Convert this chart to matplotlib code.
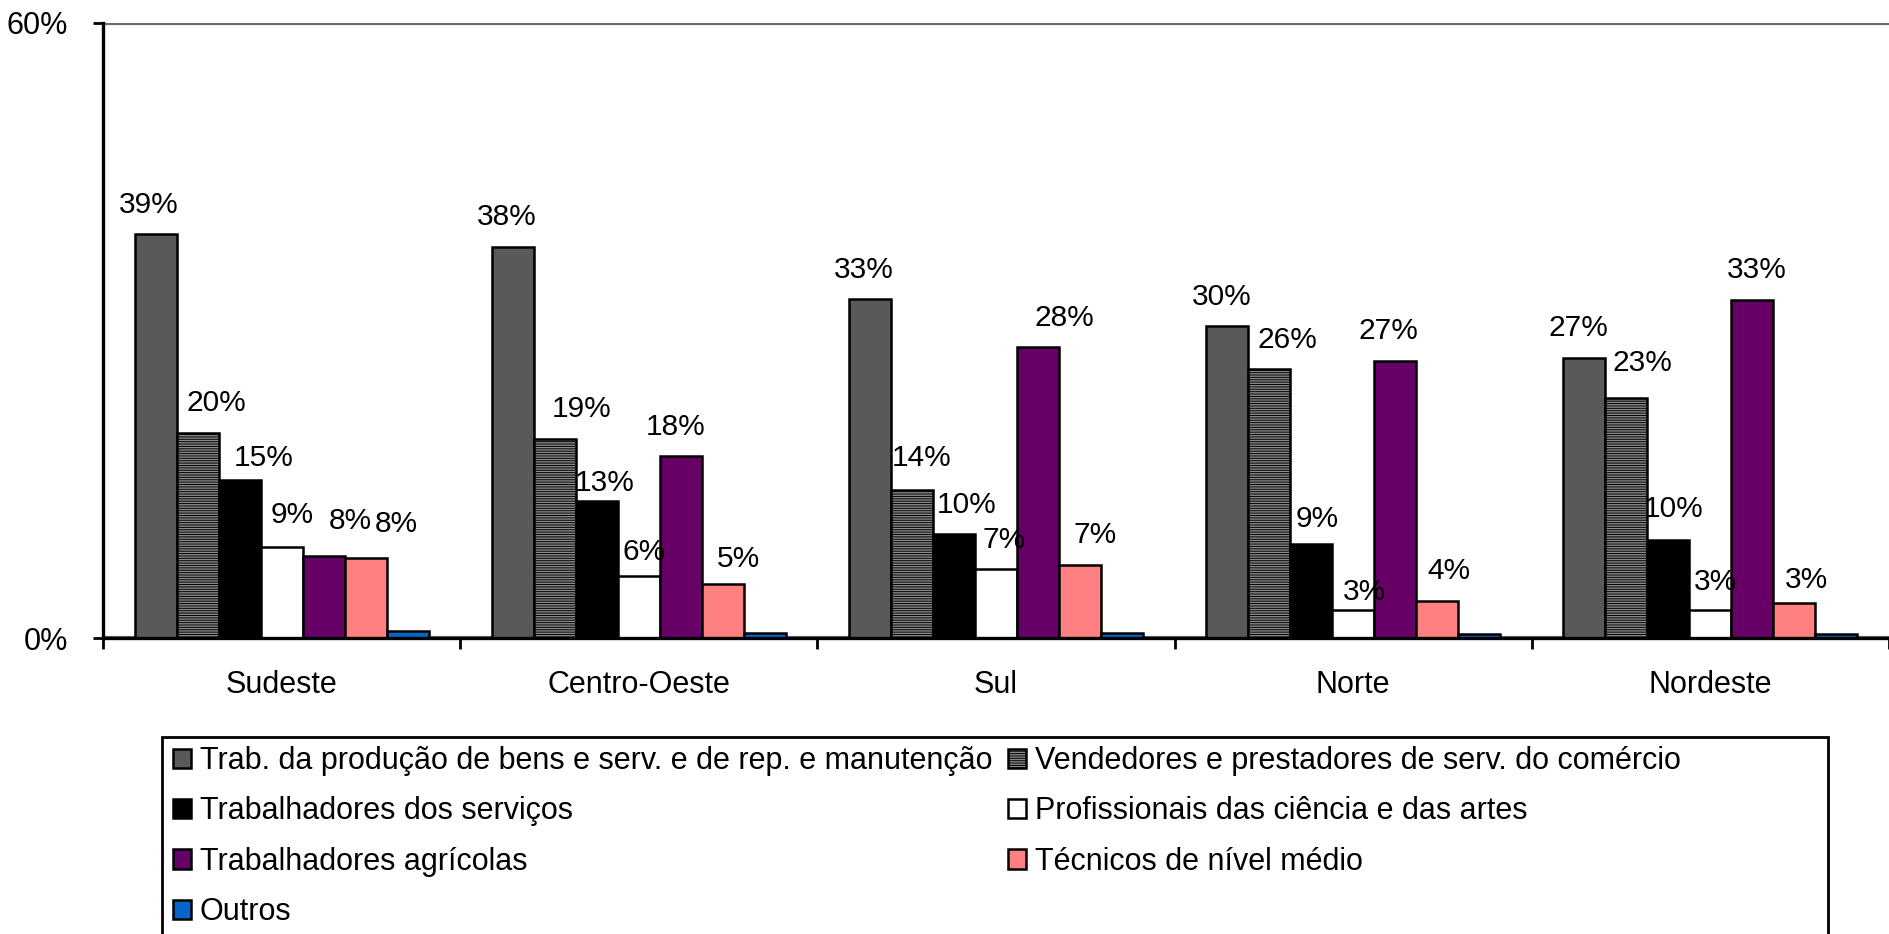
import numpy as np
import matplotlib.pyplot as plt
from matplotlib.patches import Rectangle

plt.rcParams['font.family'] = ['Liberation Sans', 'DejaVu Sans']
plt.rcParams['hatch.linewidth'] = 0.7

regions = ["Sudeste", "Centro-Oeste", "Sul", "Norte", "Nordeste"]

series_names = [
    "Trab. da produção de bens e serv. e de rep. e manutenção",
    "Vendedores e prestadores de serv. do comércio",
    "Trabalhadores dos serviços",
    "Profissionais das ciência e das artes",
    "Trabalhadores agrícolas",
    "Técnicos de nível médio",
    "Outros",
]

# values in % per region
producao      = [39.4, 38.1, 33.1, 30.4, 27.3]
vendedores    = [20.0, 19.4, 14.4, 26.2, 23.4]
servicos      = [15.4, 13.4, 10.1, 9.2, 9.6]
profissionais = [8.9, 6.0, 6.7, 2.7, 2.7]
agricolas     = [8.0, 17.7, 28.4, 27.0, 33.0]
tecnicos      = [7.8, 5.3, 7.1, 3.6, 3.4]
outros        = [0.7, 0.45, 0.45, 0.4, 0.4]

series_values = [producao, vendedores, servicos, profissionais, agricolas, tecnicos, outros]
colors  = ["#595959", "#8a8a8a", "#000000", "#ffffff", "#660066", "#ff8080", "#0066cc"]
hatches = [None, "-------", None, None, None, None, None]
show_labels = [True, True, True, True, True, True, False]

# data label placement as in the original (x shift in bar widths, gap above bar in px)
label_dx = [
    [-0.17, -0.15, -0.14, -0.14, -0.15],
    [0.44, 0.64, 0.22, 0.43, 0.38],
    [0.57, 0.18, 0.29, 0.14, 0.13],
    [0.26, 0.13, 0.20, 0.28, 0.11],
    [0.64, -0.13, 0.62, -0.16, 0.11],
    [0.73, 0.36, 0.37, 0.29, 0.29],
]
label_gap = [
    [21, 22.7, 20.7, 21.7, 22.3],
    [21.6, 22, 24, 21.7, 26.7],
    [14, 9.3, 21.3, 17, 22.7],
    [23.6, 16.7, 21, 10, 20],
    [27, 21.7, 21, 21.7, 21.7],
    [26, 16.3, 22.3, 22.3, 15],
]

fig = plt.figure(figsize=(18.89, 9.34), dpi=100)
ax = fig.add_axes([103 / 1889, 1 - 638 / 934, 1 - 103 / 1889, (638 - 22.7) / 934])

x = np.arange(len(regions))
width = 1 / 8.5
handles = []
for i, (vals, name) in enumerate(zip(series_values, series_names)):
    xpos = x + (i - 3) * width
    bars = ax.bar(xpos, vals, width, color=colors[i], edgecolor="black",
                  linewidth=1.8, hatch=hatches[i], label=name, zorder=3)
    handles.append(bars)
    if show_labels[i]:
        for j, (xi, v) in enumerate(zip(xpos, vals)):
            ax.annotate(f"{round(v):.0f}%", (xi + label_dx[i][j] * width, v),
                        xytext=(0, label_gap[i][j]), textcoords="offset pixels",
                        ha="center", va="baseline", fontsize=21.5, zorder=5)

ax.set_xlim(-0.5, len(regions) - 0.5)
ax.set_ylim(0, 60)
ax.set_yticks([0, 60])
ax.set_yticklabels(["0%", "60%"], fontsize=22)
ax.yaxis.grid(True, color="#6a6a6a", linewidth=3, zorder=0)
ax.tick_params(axis="y", direction="out", length=7, width=2, pad=18)

ax.set_xticks(np.arange(len(regions) + 1) - 0.5)
ax.set_xticklabels([])
ax.set_xticks(x, minor=True)
ax.set_xticklabels(regions, minor=True, fontsize=22)
ax.tick_params(axis="x", which="major", direction="out", length=8, width=2)
ax.tick_params(axis="x", which="minor", length=0, pad=23)

for side in ["top", "right"]:
    ax.spines[side].set_visible(False)
ax.spines["left"].set_linewidth(2.4)
ax.spines["bottom"].set_linewidth(2.4)
ax.spines["bottom"].set_zorder(4)

# legend: column-wise fill, reorder so it reads row by row
order = [0, 2, 4, 6, 1, 3, 5]
leg = fig.legend([handles[k] for k in order], [series_names[k] for k in order],
                 ncol=2, loc="upper left", bbox_to_anchor=(173 / 1889, 1 - 746 / 934),
                 frameon=False, fontsize=22, handlelength=0.6, handleheight=0.6,
                 handletextpad=0.28, columnspacing=0.5, labelspacing=0.67, borderpad=0,
                 borderaxespad=0)
fig.add_artist(Rectangle((162 / 1889, -0.05), (1828 - 162) / 1889, (1 - 737 / 934) + 0.05,
                         transform=fig.transFigure, fill=False, edgecolor="black", linewidth=2))

fig.savefig("out.png", dpi=100)
